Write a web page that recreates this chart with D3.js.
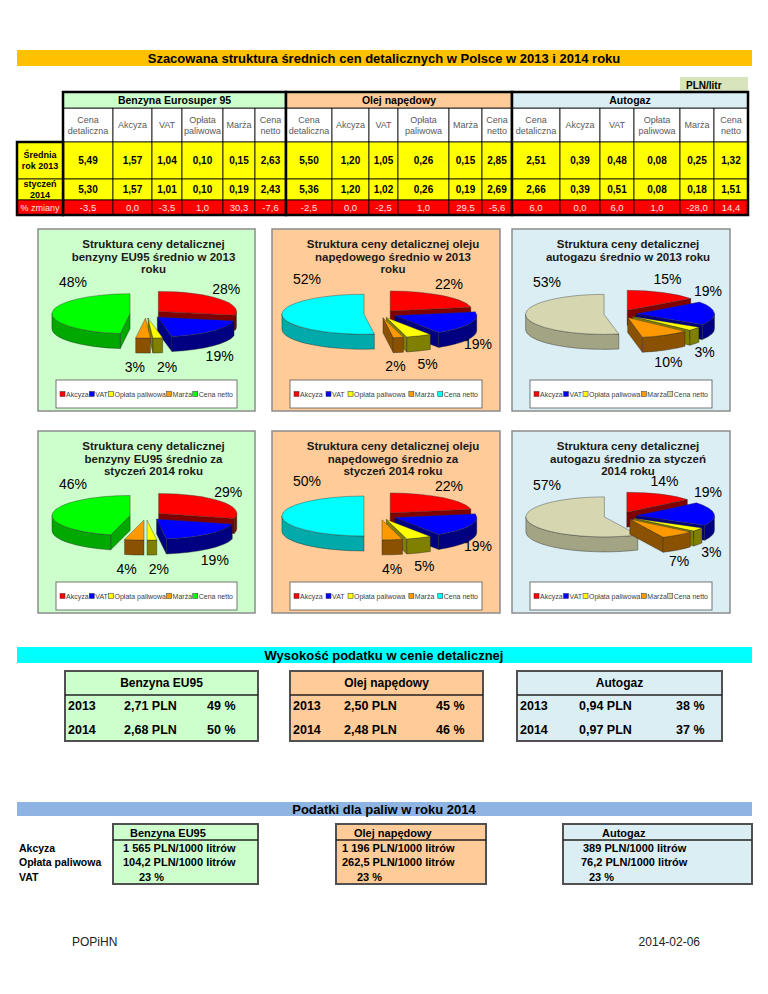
<!DOCTYPE html>
<html>
<head>
<meta charset="utf-8">
<script src="https://cdn.jsdelivr.net/npm/d3@7"></script>
<style>
  body { margin: 0; background: #fff; }
  svg { display: block; }
</style>
</head>
<body>
<script>
// ---- data ----
var mainTitle = "Szacowana struktura średnich cen detalicznych w Polsce w 2013 i 2014 roku";
var unitLabel = "PLN/litr";
var fuels = ["Benzyna Eurosuper 95", "Olej napędowy", "Autogaz"];
var columns = ["Cena detaliczna", "Akcyza", "VAT", "Opłata paliwowa", "Marża", "Cena netto"];
var rowLabels = [["Średnia", "rok 2013"], ["styczeń", "2014"], ["% zmiany"]];
var avg2013 = [[5.49, 1.57, 1.04, 0.10, 0.15, 2.63], [5.50, 1.20, 1.05, 0.26, 0.15, 2.85], [2.51, 0.39, 0.48, 0.08, 0.25, 1.32]];
var jan2014 = [[5.30, 1.57, 1.01, 0.10, 0.19, 2.43], [5.36, 1.20, 1.02, 0.26, 0.19, 2.69], [2.66, 0.39, 0.51, 0.08, 0.18, 1.51]];
var pctChange = [[-3.5, 0.0, -3.5, 1.0, 30.3, -7.6], [-2.5, 0.0, -2.5, 1.0, 29.5, -5.6], [6.0, 0.0, 6.0, 1.0, -28.0, 14.4]];

var components = ["Akcyza", "VAT", "Opłata paliwowa", "Marża", "Cena netto"];
var share2013 = [[28, 19, 2, 3, 48], [22, 19, 5, 2, 52], [15, 19, 3, 10, 53]];
var share2014 = [[29, 19, 2, 4, 46], [22, 19, 5, 4, 50], [14, 19, 3, 7, 57]];
var pieTitles2013 = [["Struktura ceny detalicznej", "benzyny EU95 średnio w 2013", "roku"],
                     ["Struktura ceny detalicznej oleju", "napędowego średnio w 2013", "roku"],
                     ["Struktura ceny detalicznej", "autogazu średnio w 2013 roku"]];
var pieTitles2014 = [["Struktura ceny detalicznej", "benzyny EU95 średnio za", "styczeń 2014 roku"],
                     ["Struktura ceny detalicznej oleju", "napędowego średnio za", "styczeń 2014 roku"],
                     ["Struktura ceny detalicznej", "autogazu średnio za styczeń", "2014 roku"]];

var taxTitle = "Wysokość podatku w cenie detalicznej";
var taxFuels = ["Benzyna EU95", "Olej napędowy", "Autogaz"];
var taxYears = ["2013", "2014"];
var taxPLN = [[2.71, 2.68], [2.50, 2.48], [0.94, 0.97]];
var taxPct = [[49, 50], [45, 46], [38, 37]];

var ratesTitle = "Podatki dla paliw w roku 2014";
var rateLabels = ["Akcyza", "Opłata paliwowa", "VAT"];
var exciseRate = [1565, 1196, 389];
var fuelFeeRate = [104.2, 262.5, 76.2];
var vatRate = [23, 23, 23];
var footerLeft = "POPiHN", footerRight = "2014-02-06";

// ---- styles ----
var FONT = "Liberation Sans, Arial, sans-serif";
var groupFill = ["#CCFFCC", "#FFCC99", "#DAEEF3"];
var partTop = ["#FF0000", "#0000FF", "#FFFF00", "#FF9900"];
var partSide = ["#800000", "#000080", "#808000", "#8A5200"];
var nettoTop = ["#00FF00", "#00FFFF", "#D6D7B1"];
var nettoSide = ["#00A800", "#00AAAA", "#A3A484"];

var pl = d3.formatLocale({decimal: ",", thousands: " ", grouping: [3], currency: ["", " zł"], minus: "-"});
var f2 = pl.format(".2f"), f1 = pl.format(".1f"), fInt = pl.format(",d");

var svg = d3.select("body").append("svg")
  .attr("width", 768).attr("height", 994)
  .attr("font-family", FONT);

function label(sel, x, y, txt, size, opts) {
  opts = opts || {};
  return sel.append("text")
    .attr("x", x).attr("y", y)
    .attr("text-anchor", opts.anchor || "middle")
    .attr("dominant-baseline", "central")
    .attr("font-size", size)
    .attr("font-weight", opts.bold ? "bold" : "normal")
    .attr("fill", opts.fill || "#000")
    .text(txt);
}

// ---- title bar ----
svg.append("rect").attr("x", 17).attr("y", 50).attr("width", 735).attr("height", 16).attr("fill", "#FFC000");
label(svg, 384, 58, mainTitle, 13, {bold: true});
svg.append("rect").attr("x", 680).attr("y", 77).attr("width", 68).attr("height", 15).attr("fill", "#D8E4BC");
label(svg, 686, 85, unitLabel, 10, {bold: true, anchor: "start"});

// ---- price table ----
var colW = [[50, 39, 30, 41, 32, 31], [46, 37, 29, 51, 33, 30], [48, 40, 34, 46, 34, 34]];
var rowH = [16, 34, 37, 21, 15];
var rowTop = d3.cumsum([0].concat(rowH));
var tx = d3.scaleLinear().domain([0, d3.sum(colW.flat())]).range([63, 748]);
var ty = d3.scaleLinear().domain([0, d3.sum(rowH)]).range([92, 215]);
var tableRows = [avg2013, jan2014, pctChange];

var cum = 0;
fuels.forEach(function (fuel, g) {
  var g0 = cum;
  colW[g].forEach(function (w, c) {
    var x0 = tx(cum), x1 = tx(cum + w), cxm = (x0 + x1) / 2;
    // sub header
    svg.append("rect").attr("x", x0).attr("y", ty(rowTop[1])).attr("width", x1 - x0).attr("height", ty(rowTop[2]) - ty(rowTop[1]))
      .attr("fill", "#fff").attr("stroke", "#000").attr("stroke-width", 0.8);
    var lines = columns[c].split(" ");
    var hy = (ty(rowTop[1]) + ty(rowTop[2])) / 2;
    lines.forEach(function (t, li) {
      label(svg, cxm, hy + (li - (lines.length - 1) / 2) * 11, t, 9, {fill: "#595959"});
    });
    // values
    tableRows.forEach(function (rows, r) {
      var y0 = ty(rowTop[r + 2]), y1 = ty(rowTop[r + 3]);
      svg.append("rect").attr("x", x0).attr("y", y0).attr("width", x1 - x0).attr("height", y1 - y0)
        .attr("fill", r < 2 ? "#FFFF00" : "#FF0000").attr("stroke", "#000").attr("stroke-width", 0.8);
      var v = rows[g][c];
      if (r < 2) label(svg, cxm, (y0 + y1) / 2, f2(v), 10, {bold: true});
      else label(svg, cxm, (y0 + y1) / 2, f1(v), 9.5, {fill: "#FFE4E4"});
    });
    cum += w;
  });
  // group header
  svg.append("rect").attr("x", tx(g0)).attr("y", ty(0)).attr("width", tx(cum) - tx(g0)).attr("height", ty(rowTop[1]) - ty(0))
    .attr("fill", groupFill[g]).attr("stroke", "#000").attr("stroke-width", 0.8);
  label(svg, (tx(g0) + tx(cum)) / 2, (ty(0) + ty(rowTop[1])) / 2, fuel, 10.5, {bold: true});
  svg.append("rect").attr("x", tx(g0)).attr("y", ty(0)).attr("width", tx(cum) - tx(g0)).attr("height", ty(rowTop[5]) - ty(0))
    .attr("fill", "none").attr("stroke", "#000").attr("stroke-width", 2.5);
});

rowLabels.forEach(function (lines, r) {
  var y0 = ty(rowTop[r + 2]), y1 = ty(rowTop[r + 3]);
  svg.append("rect").attr("x", 17).attr("y", y0).attr("width", 46).attr("height", y1 - y0)
    .attr("fill", r < 2 ? "#FFFF00" : "#FF0000").attr("stroke", "#000").attr("stroke-width", 0.8);
  lines.forEach(function (t, li) {
    label(svg, 40, (y0 + y1) / 2 + (li - (lines.length - 1) / 2) * 11, t, 9,
      r < 2 ? {bold: true} : {fill: "#FFE4E4"});
  });
});
svg.append("rect").attr("x", 17).attr("y", ty(rowTop[2])).attr("width", 46).attr("height", ty(rowTop[5]) - ty(rowTop[2]))
  .attr("fill", "none").attr("stroke", "#000").attr("stroke-width", 2.5);

// ---- 3D exploded pies ----
var panelX = [38, 272, 512], panelW = [217, 228, 218], panelY = [229, 431], panelH = 182;

function drawPie(px, py, pw, fuel, shares, titleLines) {
  var g = svg.append("g").attr("transform", "translate(" + px + "," + py + ")");
  g.append("rect").attr("width", pw).attr("height", panelH)
    .attr("fill", groupFill[fuel]).attr("stroke", "#8C8C8C").attr("stroke-width", 1.5);
  titleLines.forEach(function (t, i) { label(g, pw / 2 + 7, 15 + i * 12.5, t, 11.5, {bold: true, fill: "#1a1a1a"}); });

  var rx = pw * 0.36, ry = 20, depth = 15, ex = 16, k = ry / rx, cx = 108, cy = 85;
  var tops = partTop.concat(nettoTop[fuel]), sides = partSide.concat(nettoSide[fuel]);
  var biggest = d3.max(shares);

  var slices = d3.pie().sort(null)(shares).map(function (a) {
    var mid = (a.startAngle + a.endAngle) / 2;
    a.mid = mid;
    a.ax = cx + ex * Math.sin(mid);
    a.ay = cy - ex * k * Math.cos(mid);
    return a;
  });
  function pt(d, a, dz) { return [d.ax + rx * Math.sin(a), d.ay - ry * Math.cos(a) + (dz || 0)]; }
  function face(d, a) {
    var p = pt(d, a);
    return "M" + d.ax + "," + d.ay + "L" + p[0] + "," + p[1] + "L" + p[0] + "," + (p[1] + depth) +
      "L" + d.ax + "," + (d.ay + depth) + "Z";
  }
  function outer(d, u, v) {
    var p0 = pt(d, u), p1 = pt(d, v);
    return "M" + p0 + "A" + rx + "," + ry + " 0 0 1 " + p1 + "L" + p1[0] + "," + (p1[1] + depth) +
      "A" + rx + "," + ry + " 0 0 0 " + p0[0] + "," + (p0[1] + depth) + "Z";
  }
  function top(d) {
    var p0 = pt(d, d.startAngle), p1 = pt(d, d.endAngle);
    return "M" + d.ax + "," + d.ay + "L" + p0 + "A" + rx + "," + ry + " 0 " +
      (d.endAngle - d.startAngle > Math.PI ? 1 : 0) + " 1 " + p1 + "Z";
  }

  // back slices first
  slices.slice().sort(function (a, b) { return Math.cos(b.mid) - Math.cos(a.mid); }).forEach(function (d) {
    var sg = g.append("g");
    var s = d.startAngle, e = d.endAngle, walls = [];
    if (Math.sin(s) < -1e-6) walls.push(face(d, s));
    if (Math.sin(e) > 1e-6) walls.push(face(d, e));
    var u = Math.max(s, Math.PI / 2), v = Math.min(e, 1.5 * Math.PI);
    if (v > u) walls.push(outer(d, u, v));
    walls.forEach(function (p) {
      sg.append("path").attr("d", p).attr("fill", sides[d.index]).attr("stroke", "#222").attr("stroke-width", 0.4);
    });
    sg.append("path").attr("d", top(d)).attr("fill", tops[d.index]).attr("stroke", "#333").attr("stroke-width", 0.4);
  });

  // data labels: outside the slice; the big slice gets its label towards the back,
  // labels pushed off the plot area climb upwards
  var labs = slices.map(function (d) {
    var la = d.data === biggest ? d.endAngle - Math.PI / 4 : d.mid;
    var front = Math.cos(la) < 0;
    var a = pt(d, la, front ? depth : 0);
    var w = (String(d.data).length * 0.556 + 0.889) * 14;
    var raw = a[0] + 10 * Math.sin(la);
    var lx = Math.max(35, Math.min(pw - 22, raw));
    var ly = a[1] - (front ? 14 : 15) * Math.cos(la);
    if (Math.cos(la) > -0.1) ly -= Math.abs(raw - lx) * 1.3;
    return {d: d, a: a, w: w, x0: lx, x: lx, y: ly};
  });
  for (var it = 0; it < 4; it++) {
    for (var i = 0; i < labs.length; i++) for (var j = i + 1; j < labs.length; j++) {
      var A = labs[i], B = labs[j], need = (A.w + B.w) / 2 + 12, dx = B.x - A.x;
      if (Math.abs(A.y - B.y) < 15 && Math.abs(dx) < need) {
        var sh = (need - Math.abs(dx)) / 2, sg = dx >= 0 ? 1 : -1;
        A.x -= sg * sh; B.x += sg * sh;
      }
    }
  }
  labs.forEach(function (l) {
    if (Math.abs(l.x - l.x0) > 6 && Math.abs(l.x - l.a[0]) > l.w / 2 + 2) {
      var sgn = l.x > l.a[0] ? 1 : -1;
      g.append("path").attr("fill", "none").attr("stroke", "#000").attr("stroke-width", 0.8)
        .attr("d", "M" + (l.x - sgn * (l.w / 2 + 1)) + "," + (l.y + 3) + "L" + (l.x - sgn * (l.w / 2 + 5)) + "," + (l.y + 3) +
          "L" + l.a[0] + "," + (l.a[1] + 1));
    }
    label(g, l.x, l.y, l.d.data + "%", 14, {fill: "#000"});
  });

  // legend
  var lw = pw - 36;
  var lg = g.append("g").attr("transform", "translate(18,151)");
  lg.append("rect").attr("width", lw).attr("height", 28).attr("fill", "#fff").attr("stroke", "#555").attr("stroke-width", 0.8);
  var items = lg.selectAll("g.item").data(components).join("g").attr("class", "item");
  items.append("rect").attr("y", 11.5).attr("width", 5).attr("height", 5)
    .attr("fill", function (d, i) { return tops[i]; }).attr("stroke", "#333").attr("stroke-width", 0.5);
  items.append("text").attr("x", 6).attr("y", 14).attr("dominant-baseline", "central")
    .attr("font-size", 7).attr("fill", "#404040").text(function (d) { return d; });
  var widths = [];
  items.select("text").each(function () { widths.push(this.getComputedTextLength() + 6); });
  var gap = (lw - 8 - d3.sum(widths)) / (components.length - 1), xx = 4;
  items.attr("transform", function (d, i) { var t = "translate(" + xx + ",0)"; xx += widths[i] + gap; return t; });
}

fuels.forEach(function (f, i) {
  drawPie(panelX[i], panelY[0], panelW[i], i, share2013[i], pieTitles2013[i]);
  drawPie(panelX[i], panelY[1], panelW[i], i, share2014[i], pieTitles2014[i]);
});

// ---- tax share ----
svg.append("rect").attr("x", 17).attr("y", 647).attr("width", 735).attr("height", 16).attr("fill", "#00FFFF");
label(svg, 384, 655, taxTitle, 13, {bold: true});
var taxBoxX = [65, 290, 517], taxBoxW = [193, 193, 205];
var taxCols = [[3, 59, 142], [3, 54, 146], [3, 62, 159]];
taxFuels.forEach(function (f, i) {
  var g = svg.append("g").attr("transform", "translate(" + taxBoxX[i] + ",671)");
  g.append("rect").attr("width", taxBoxW[i]).attr("height", 70).attr("fill", groupFill[i])
    .attr("stroke", "#505050").attr("stroke-width", 2);
  g.append("line").attr("x1", 0).attr("x2", taxBoxW[i]).attr("y1", 24).attr("y2", 24).attr("stroke", "#222").attr("stroke-width", 1.5);
  label(g, taxBoxW[i] / 2, 12, f, 12, {bold: true});
  taxYears.forEach(function (yr, r) {
    var yy = 35 + r * 24;
    label(g, taxCols[i][0], yy, yr, 12.5, {bold: true, anchor: "start"});
    label(g, taxCols[i][1], yy, f2(taxPLN[i][r]) + " PLN", 12.5, {bold: true, anchor: "start"});
    label(g, taxCols[i][2], yy, taxPct[i][r] + " %", 12.5, {bold: true, anchor: "start"});
  });
});

// ---- 2014 rates ----
svg.append("rect").attr("x", 17).attr("y", 802).attr("width", 735).attr("height", 14).attr("fill", "#8DB4E2");
label(svg, 384, 809, ratesTitle, 13, {bold: true});
var rateBoxX = [113, 336, 563], rateBoxW = [145, 150, 189];
var rateHeadX = [17, 18, 39], rateValX = [[10, 10, 26], [6, 6, 21], [20, 18, 26]];
var rowY = [24, 38, 53];
rateLabels.forEach(function (t, r) { label(svg, 19, 824 + rowY[r], t, 10.5, {bold: true, anchor: "start"}); });
taxFuels.forEach(function (f, i) {
  var g = svg.append("g").attr("transform", "translate(" + rateBoxX[i] + ",824)");
  g.append("rect").attr("width", rateBoxW[i]).attr("height", 60).attr("fill", groupFill[i])
    .attr("stroke", "#505050").attr("stroke-width", 2);
  g.append("line").attr("x1", 0).attr("x2", rateBoxW[i]).attr("y1", 16).attr("y2", 16).attr("stroke", "#222").attr("stroke-width", 1.5);
  label(g, rateHeadX[i], 9, f, 11, {bold: true, anchor: "start"});
  var vals = [fInt(exciseRate[i]) + " PLN/1000 litrów", f1(fuelFeeRate[i]) + " PLN/1000 litrów", vatRate[i] + " %"];
  vals.forEach(function (v, r) { label(g, rateValX[i][r], rowY[r], v, 11, {bold: true, anchor: "start"}); });
});

// ---- footer ----
label(svg, 72, 942, footerLeft, 12, {anchor: "start", fill: "#222"});
label(svg, 700, 942, footerRight, 12, {anchor: "end", fill: "#222"});
</script>
</body>
</html>
